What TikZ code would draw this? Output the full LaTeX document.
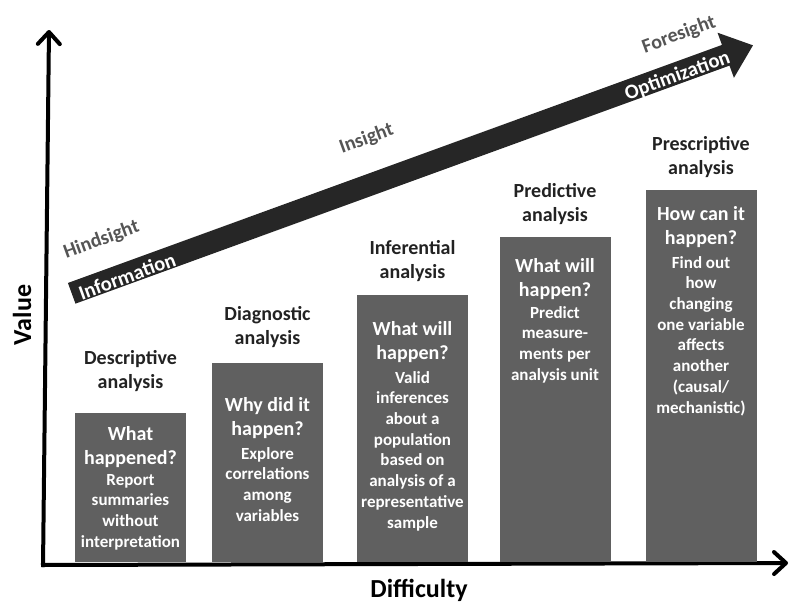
\documentclass[tikz,border=0pt]{standalone}
\usepackage{fontspec}
\setmainfont{Carlito}
\usepackage{xcolor}
\usetikzlibrary{arrows.meta}

\definecolor{barfill}{HTML}{606060}
\definecolor{bandfill}{HTML}{262626}
\definecolor{hintgray}{HTML}{555555}
\definecolor{titlegray}{HTML}{222222}

\begin{document}
\begin{tikzpicture}[x=1pt, y=-1pt,
    axis/.style={line width=4pt, -{Straight Barb[length=12pt, width=22pt, round]}},
    bar/.style={fill=barfill, draw=none, minimum width=111pt, inner sep=0pt, anchor=south},
    bartitle/.style={font=\fontsize{20}{24}\selectfont\bfseries, text=titlegray, align=center, inner sep=0pt},
    question/.style={font=\fontsize{20}{24.5}\selectfont\bfseries, text=white, align=center, inner sep=0pt, anchor=north},
    detail/.style={font=\fontsize{17}{20.7}\selectfont\bfseries, text=white, align=center, inner sep=0pt, anchor=north},
    hint/.style={font=\fontsize{20}{24}\selectfont\bfseries, text=hintgray, rotate=20, inner sep=0pt},
    bandtext/.style={font=\fontsize{20.5}{24}\selectfont\bfseries, text=white, rotate=20, inner sep=0pt},
    axislabel/.style={font=\fontsize{26}{30}\selectfont\bfseries, inner sep=0pt}]

  \useasboundingbox (0,0) rectangle (790,603);

  % axes
  \coordinate (xstart) at (41,565);
  \coordinate (ystart) at (43,567);
  \coordinate (xtip) at (788,563);
  \coordinate (ytip) at (49,30);
  \draw[axis] (ystart) -- (ytip);
  \draw[axis] (xstart) -- (xtip);
  \node[axislabel, rotate=90] (value) at (22,315) {Value};
  \node[axislabel] (difficulty) at (419,590) {Difficulty};

  % trend arrow
  \begin{scope}[shift={(71.7,293.3)}, rotate=20]
    \fill[bandfill] (0,-11) -- (696,-11) -- (696,-24) -- (725,0)
      -- (696,24) -- (696,11) -- (0,11) -- cycle;
  \end{scope}
  \node[bandtext] (information) at (127,276) {Information};
  \node[bandtext] (optimization) at (677.5,76) {Optimization};
  \node[hint] (hindsight) at (101.5,240) {Hindsight};
  \node[hint] (insight) at (366.5,139) {Insight};
  \node[hint] (foresight) at (679,35) {Foresight};

  % descriptive
  \node[bar, minimum height=149pt] (descbar) at (130.5,562) {};
  \node[bartitle] (desctitle) at (130.5,371.5) {Descriptive\\analysis};
  \node[question] (descq) at (130.5,426) {What\\happened?};
  \node[detail] (descd) at (130.5,474) {Report\\summaries\\without\\interpretation};

  % diagnostic
  \node[bar, minimum height=199pt] (diagbar) at (267.5,562) {};
  \node[bartitle] (diagtitle) at (267.5,327.5) {Diagnostic\\analysis};
  \node[question] (diagq) at (267.5,397) {Why did it\\happen?};
  \node[detail] (diagd) at (267.5,447) {Explore\\correlations\\among\\variables};

  % inferential
  \node[bar, minimum height=267pt] (inferbar) at (412.5,562) {};
  \node[bartitle] (infertitle) at (412.5,261.5) {Inferential\\analysis};
  \node[question] (inferq) at (412.5,321) {What will\\happen?};
  \node[detail] (inferd) at (412.5,371) {Valid\\inferences\\about a\\population\\based on\\analysis of a\\representative\\sample};

  % predictive
  \node[bar, minimum height=325pt] (predbar) at (555,562) {};
  \node[bartitle] (predtitle) at (555,204.5) {Predictive\\analysis};
  \node[question] (predq) at (555,258) {What will\\happen?};
  \node[detail] (predd) at (555,306) {Predict\\measure-\\ments per\\analysis unit};

  % prescriptive
  \node[bar, minimum height=372pt] (prescbar) at (701,562) {};
  \node[bartitle] (presctitle) at (701,157.5) {Prescriptive\\analysis};
  \node[question] (prescq) at (701,206) {How can it\\happen?};
  \node[detail] (prescd) at (701,256) {Find out\\how\\changing\\one variable\\affects\\another\\(causal/\\mechanistic)};
\end{tikzpicture}
\end{document}
